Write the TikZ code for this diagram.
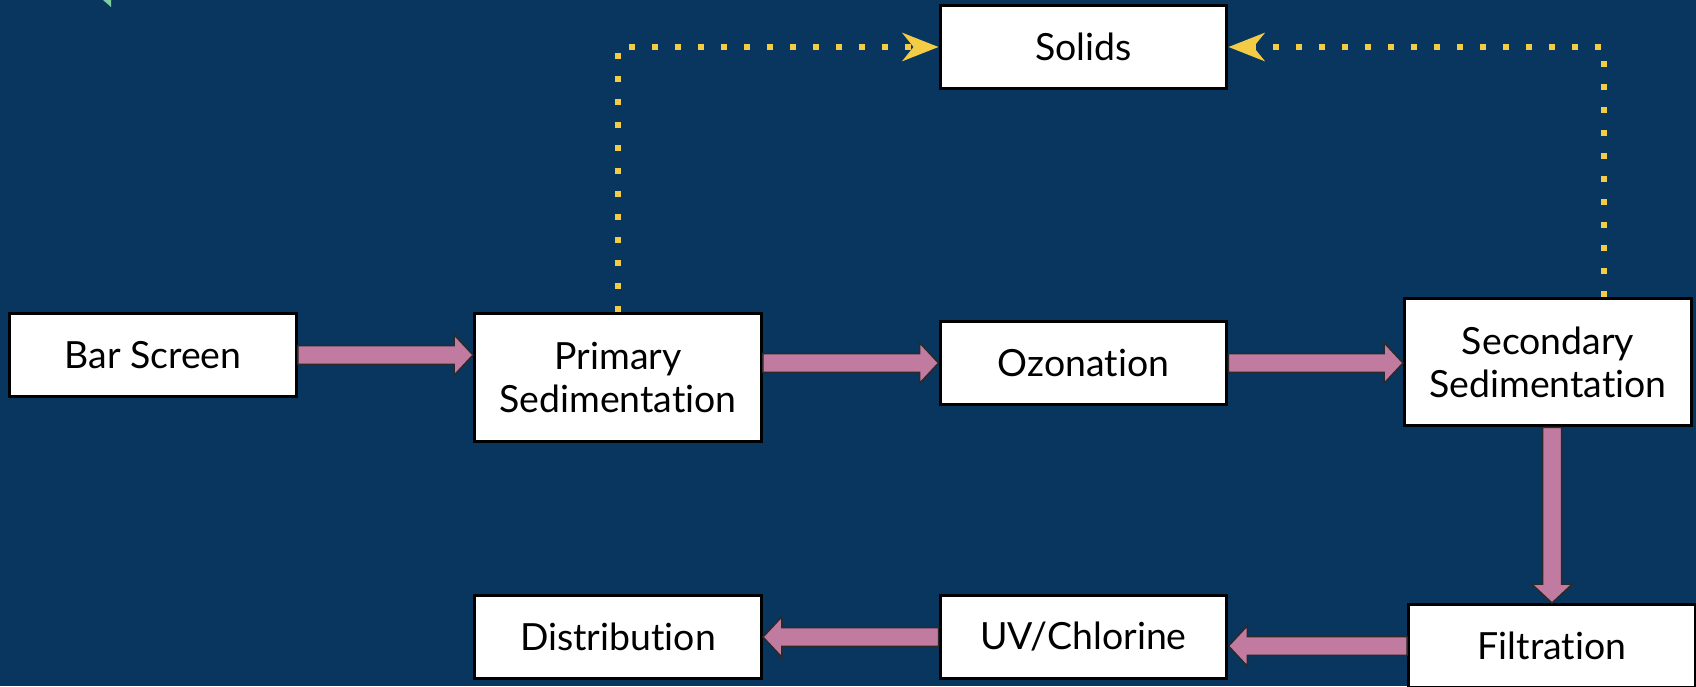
\documentclass[tikz,border=0pt]{standalone}
\usepackage{fontspec}
\setmainfont{Lato}[Ligatures={NoCommon,NoRare,NoContextual}]
\usetikzlibrary{calc,arrows.meta}

\definecolor{bgblue}{HTML}{08365F}
\definecolor{pipepink}{HTML}{C27BA0}
\definecolor{sludgeyellow}{HTML}{F4CB45}
\definecolor{edgegrey}{HTML}{2A2A2A}
\definecolor{mint}{HTML}{7FCBA4}

% fat pink arrow from #1 to #2
\newcommand{\pipe}[2]{%
  \path[pipearrow] let \p1=(#1), \p2=(#2),
    \n1={atan2(\y2-\y1,\x2-\x1)}, \n2={veclen(\x2-\x1,\y2-\y1)} in
    [shift={(\p1)}, rotate=\n1]
    (0pt,5.4pt) -- ({\n2-10.8pt},5.4pt) -- ({\n2-10.8pt},11.6pt) -- (\n2,0pt)
    -- ({\n2-10.8pt},-11.6pt) -- ({\n2-10.8pt},-5.4pt) -- (0pt,-5.4pt) -- cycle;}

\begin{document}
\begin{tikzpicture}[x=0.02cm,y=0.02cm,
        stage/.style={draw=black, fill=white, line width=0.06cm, align=center,
          minimum width=5.74cm, minimum height=1.66cm, inner sep=0pt,
          font=\fontsize{21.3}{24.6}\selectfont},
        tallstage/.style={stage, minimum height=2.56cm},
        pipearrow/.style={fill=pipepink, draw=edgegrey, line width=0.03cm, line join=miter},
        sludge/.style={draw=sludgeyellow, line width=0.12cm, dash pattern=on 0.12cm off 0.34cm,
          -{Stealth[length=0.72cm, width=0.56cm, inset=0.22cm, fill=sludgeyellow, sep=0pt]}}]
        \path[use as bounding box, fill=bgblue] (0,0) rectangle (1696,-686);
        \clip (0,0) rectangle (1696,-686);
        \fill[mint] (103,0) -- (111,0) -- (111,-7) -- cycle;
        % stages
        \node[stage] (bar) at (153,-355) {Bar Screen};
        \node[tallstage] (prim) at (618,-377.5) {Primary\\Sedimentation};
        \node[stage] (ozon) at (1083.5,-363) {Ozonation};
        \node[stage] (solids) at (1083.5,-47) {Solids};
        \node[tallstage] (sec) at (1548,-362) {Secondary\\Sedimentation};
        \node[stage] (filt) at (1552,-646) {Filtration};
        \node[stage] (uv) at (1083.5,-637) {UV/Chlorine};
        \node[stage] (dist) at (618,-637) {Distribution};
        % water line
        \pipe{bar.east}{prim.west |- bar.east}
        \pipe{prim.east |- ozon.west}{ozon.west}
        \pipe{ozon.east}{sec.west |- ozon.east}
        \pipe{sec.south -| filt.north}{filt.north}
        \pipe{filt.west}{uv.east |- filt.west}
        \pipe{uv.west}{dist.east}
        % solids
        \coordinate (secout) at ($(sec.north)+(56,0)$);
        \draw[sludge] (prim.north) |- (solids.west);
        \draw[sludge] (secout) |- (solids.east);
\end{tikzpicture}
\end{document}
